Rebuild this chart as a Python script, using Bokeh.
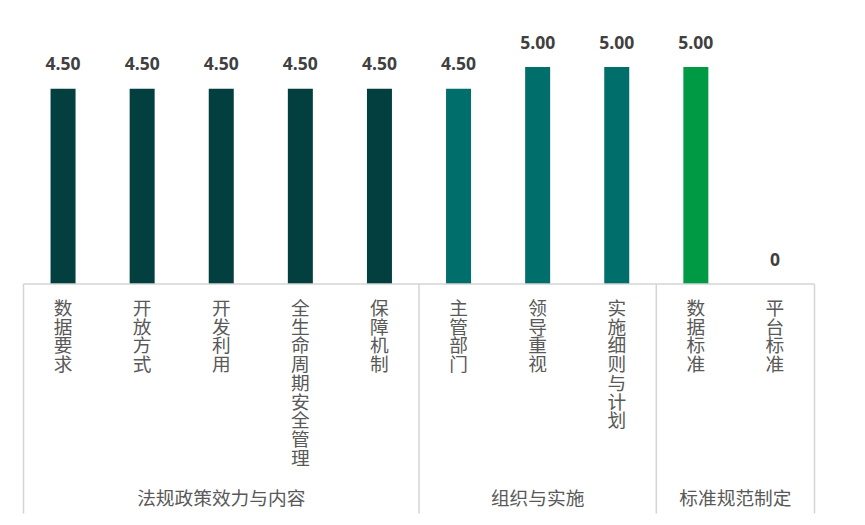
from bokeh.plotting import figure
from bokeh.models import Range1d, ColumnDataSource
from bokeh.core.properties import value
from bokeh.embed import file_html
from bokeh.resources import INLINE

# ---- data ----
categories = ["数据要求", "开放方式", "开发利用", "全生命周期安全管理", "保障机制",
              "主管部门", "领导重视", "实施细则与计划",
              "数据标准", "平台标准"]
scores = [4.5, 4.5, 4.5, 4.5, 4.5, 4.5, 5.0, 5.0, 5.0, 0.0]
score_labels = ["4.50", "4.50", "4.50", "4.50", "4.50", "4.50", "5.00", "5.00", "5.00", "0"]
groups = ["法规政策效力与内容", "组织与实施", "标准规范制定"]
group_sizes = [5, 3, 2]
group_colors = ["#033F3E", "#006E6B", "#009A44"]

# ---- layout constants ----
W, H = 865, 525
STEP = 79.1          # px per category
LEFT = 23.0          # px of axis start
AXIS_Y = 283.5       # px of axis line from top
UNIT = 43.4          # px per score unit
LINE_END = 513.0     # px where separators end
CJK = "Noto Sans CJK SC"
LAT = "Open Sans"

x_start = -0.5 - LEFT / STEP
x_end = x_start + W / STEP
y_end = AXIS_Y / UNIT
y_start = -(H - AXIS_Y) / UNIT

p = figure(width=W, height=H, output_backend="svg", toolbar_location=None,
           x_range=Range1d(x_start, x_end), y_range=Range1d(y_start, y_end),
           min_border=0, x_axis_type=None, y_axis_type=None)
p.grid.visible = False
p.outline_line_color = None
p.background_fill_color = "white"
p.border_fill_color = "white"

# colors per bar
colors = []
for g, n in enumerate(group_sizes):
    colors += [group_colors[g]] * n

xs = list(range(len(categories)))
src = ColumnDataSource(dict(x=xs, top=scores, color=colors, lab=score_labels))
p.vbar(x="x", top="top", bottom=0, width=25 / STEP, fill_color="color",
       line_color=None, source=src)

# value labels
p.text(x="x", y="top", text="lab", source=src, text_align="center",
       text_baseline="middle", y_offset=-25, text_font=value(LAT),
       text_font_style="bold", text_font_size="17.5px", text_color="#404040")

# axis line
line_col = "#D4D4D4"
y_line_end = -(LINE_END - AXIS_Y) / UNIT
p.segment(x0=[-0.5], y0=[0], x1=[len(categories) - 0.5], y1=[0],
          line_color=line_col, line_width=1.5)

# group separators
bounds = [-0.5]
for n in group_sizes:
    bounds.append(bounds[-1] + n)
p.segment(x0=bounds, y0=[0] * len(bounds), x1=bounds, y1=[y_line_end] * len(bounds),
          line_color=line_col, line_width=1.5)

# vertical stacked category labels
cx, ch, cyo = [], [], []
PITCH = 18.7
for i, c in enumerate(categories):
    for r, chv in enumerate(c):
        cx.append(i)
        ch.append(chv)
        cyo.append(9 + r * PITCH)
csrc = ColumnDataSource(dict(x=cx, y=[0] * len(cx), t=ch, yo=cyo))
p.text(x="x", y="y", text="t", y_offset="yo", source=csrc, text_align="center",
       text_baseline="top", text_font=value(CJK), text_font_size="18.7px",
       text_color="#595959")

# group labels
gx = [(bounds[k] + bounds[k + 1]) / 2 for k in range(len(groups))]
p.text(x=gx, y=[0] * len(gx), text=groups, y_offset=496 - AXIS_Y,
       text_align="center", text_baseline="middle", text_font=value(CJK),
       text_font_size="18.7px", text_color="#595959")

open("out.html", "w").write(file_html(p, INLINE))
